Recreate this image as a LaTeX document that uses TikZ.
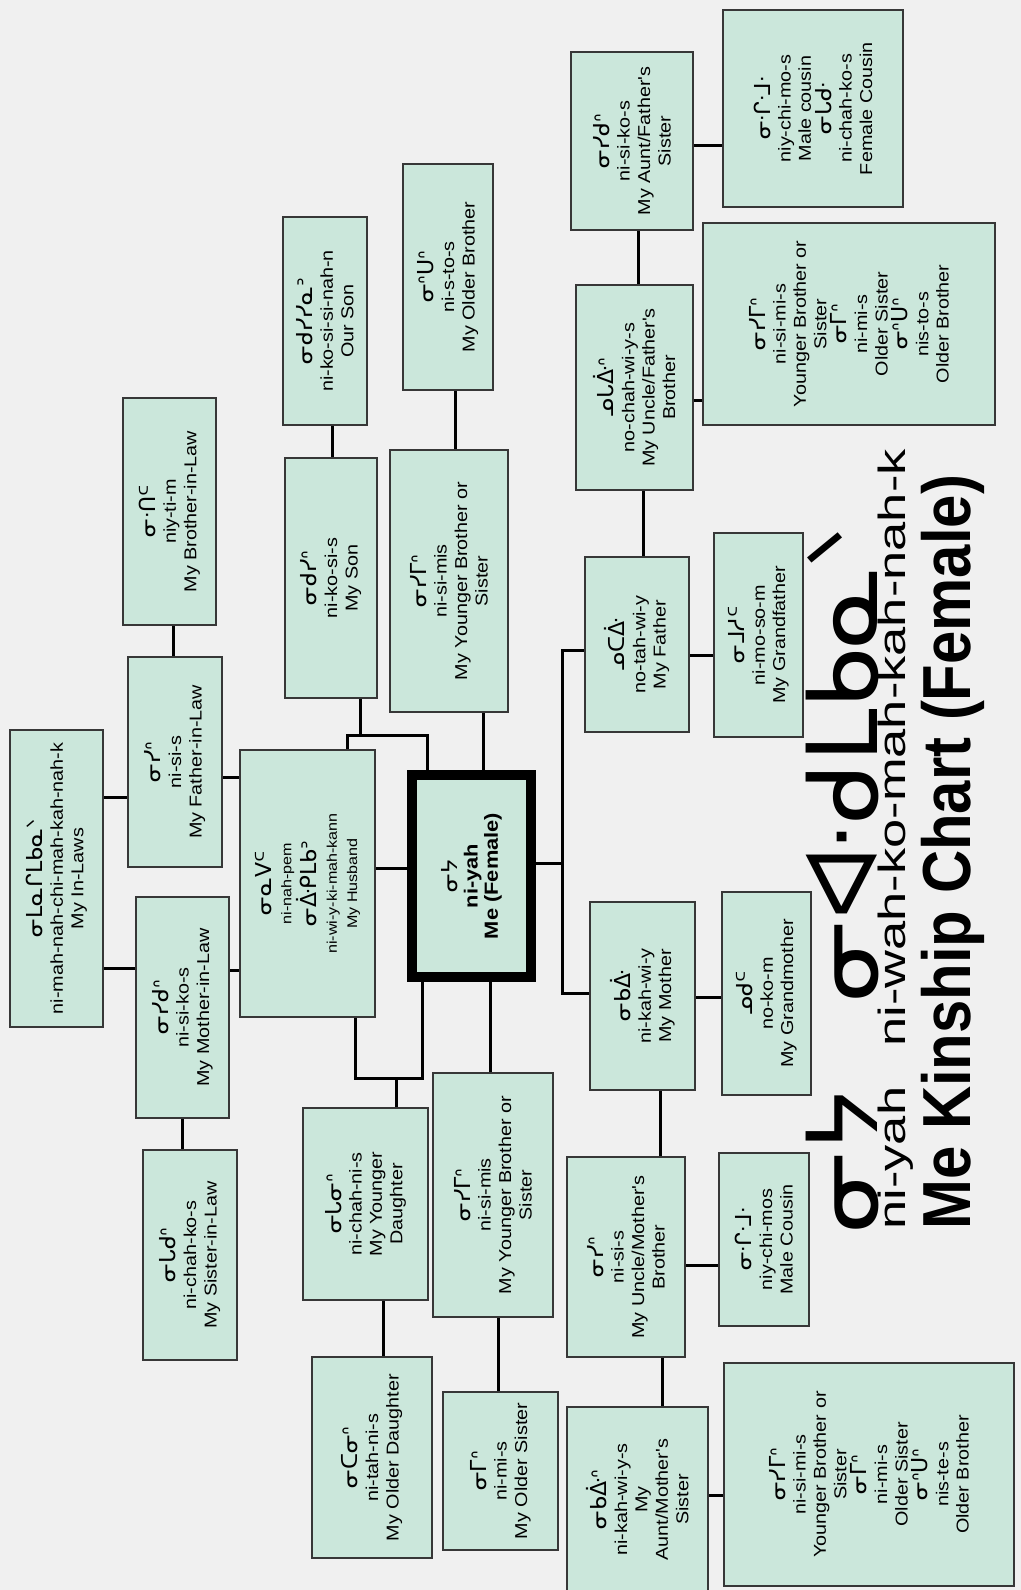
\documentclass[tikz,border=0pt]{standalone}
\usepackage{fontspec}
\setmainfont{Liberation Sans}
\newfontfamily\boxfont[FakeStretch=1.15]{Liberation Sans}
\newfontfamily\sylfont{DejaVu Sans}
\newfontfamily\bigsylfont[FakeStretch=0.98]{DejaVu Sans}
\newfontfamily\subfont[FakeStretch=1.38]{Liberation Sans}
\newfontfamily\chartfont[FakeStretch=0.88]{Liberation Sans}
\usetikzlibrary{fit}
\definecolor{paper}{RGB}{240,240,240}
\definecolor{mint}{RGB}{203,231,219}
\definecolor{edge}{RGB}{55,55,55}
\tikzset{kbox/.style={draw=edge, fill=mint, line width=1pt, inner sep=0pt},
  mebox/.style={kbox, draw=black, line width=5pt},
  ktext/.style={rotate=90, align=center, inner sep=0pt, font=\boxfont\fontsize{8.6}{10.2}\selectfont},
  link/.style={line width=1.5pt, black},
  title/.style={rotate=90, anchor=base west, inner sep=0pt}}
\newcommand{\syl}[1]{{\sylfont\fontsize{11}{12}\selectfont #1}}
\newcommand{\bsyl}[1]{{\fontsize{9.5}{11}\selectfont\bfseries #1}}
\newcommand{\smalltxt}[1]{{\fontsize{7}{8}\selectfont #1}}
\begin{document}
\begin{tikzpicture}[x=0.5pt,y=0.5pt,yscale=-1,xscale=1]
\fill[paper] (0,0) rectangle (1021,1590);
\useasboundingbox (0,0) rectangle (1021,1590);

%Shape: Rectangle [in-laws side]
\node[kbox, fit={(10,730) (103,1027)}] (inlaws) {};
\node[kbox, fit={(128,657) (222,867)}] (fil) {};
\node[kbox, fit={(123,398) (216,625)}] (bil) {};
\node[kbox, fit={(136,897) (229,1118)}] (mil) {};
\node[kbox, fit={(143,1150) (237,1360)}] (sil) {};
\node[kbox, fit={(240,750) (375,1017)}] (husband) {};

%Shape: Rectangle [children and siblings]
\node[kbox, fit={(283,217) (367,425)}] (ourson) {};
\node[kbox, fit={(285,458) (377,698)}] (son) {};
\node[kbox, fit={(303,1108) (428,1300)}] (ydau) {};
\node[kbox, fit={(312,1357) (432,1558)}] (odau) {};
\node[kbox, fit={(390,450) (508,712)}] (ybroA) {};
\node[kbox, fit={(403,164) (493,390)}] (obro) {};
\node[kbox, fit={(433,1073) (553,1317)}] (ybroB) {};
\node[kbox, fit={(443,1392) (558,1550)}] (osis) {};

%Shape: Rectangle [me]
\node[mebox, fit={(412,775) (531,977)}] (me) {};

%Shape: Rectangle [parents side]
\node[kbox, fit={(585,557) (689,732)}] (father) {};
\node[kbox, fit={(590,902) (695,1090)}] (mother) {};
\node[kbox, fit={(714,533) (803,737)}] (gfather) {};
\node[kbox, fit={(722,892) (811,1095)}] (gmother) {};
\node[kbox, fit={(576,285) (693,490)}] (unclef) {};
\node[kbox, fit={(571,52) (693,230)}] (auntf) {};
\node[kbox, fit={(723,10) (903,207)}] (cousinsA) {};
\node[kbox, fit={(703,223) (995,425)}] (sibsA) {};
\node[kbox, fit={(567,1157) (685,1357)}] (unclem) {};
\node[kbox, fit={(567,1407) (708,1592)}] (auntm) {};
\node[kbox, fit={(719,1153) (809,1326)}] (cousinB) {};
\node[kbox, fit={(724,1363) (1014,1586)}] (sibsB) {};

% Text Node [box texts]
\node[ktext] (inlaws-t) at (inlaws) {\syl{ᓂᒪᓇᒋᒪᑲᓇᐠ}\\ ni-mah-nah-chi-mah-kah-nah-k\\ My In-Laws};
\node[ktext] (fil-t) at (fil) {\syl{ᓂᓯᐢ}\\ ni-si-s\\ My Father-in-Law};
\node[ktext] (bil-t) at (bil) {\syl{ᓂᐧᑎᒼ}\\ niy-ti-m\\ My Brother-in-Law};
\node[ktext] (mil-t) at (mil) {\syl{ᓂᓯᑯᐢ}\\ ni-si-ko-s\\ My Mother-in-Law};
\node[ktext] (sil-t) at (sil) {\syl{ᓂᒐᑯᐢ}\\ ni-chah-ko-s\\ My Sister-in-Law};
\node[ktext] (husband-t) at (husband) {\syl{ᓂᓇᐯᒼ}\\ \smalltxt{ni-nah-pem}\\ \syl{ᓂᐑᑭᒪᑲᐣ}\\ \smalltxt{ni-wi-y-ki-mah-kann}\\ \smalltxt{My Husband}};
\node[ktext] (ourson-t) at (ourson) {\syl{ᓂᑯᓯᓯᓇᐣ}\\ ni-ko-si-si-nah-n\\ Our Son};
\node[ktext] (son-t) at (son) {\syl{ᓂᑯᓯᐢ}\\ ni-ko-si-s\\ My Son};
\node[ktext] (ydau-t) at (ydau) {\syl{ᓂᒐᓂᐢ}\\ ni-chah-ni-s\\ My Younger\\ Daughter};
\node[ktext] (odau-t) at (odau) {\syl{ᓂᑕᓂᐢ}\\ ni-tah-ni-s\\ My Older Daughter};
\node[ktext] (ybroA-t) at (ybroA) {\syl{ᓂᓯᒥᐢ}\\ ni-si-mis\\ My Younger Brother or\\ Sister};
\node[ktext] (obro-t) at (obro) {\syl{ᓂᐢᑌᐢ}\\ ni-s-to-s\\ My Older Brother};
\node[ktext] (ybroB-t) at (ybroB) {\syl{ᓂᓯᒥᐢ}\\ ni-si-mis\\ My Younger Brother or\\ Sister};
\node[ktext] (osis-t) at (osis) {\syl{ᓂᒥᐢ}\\ ni-mi-s\\ My Older Sister};
\node[ktext] (me-t) at (me) {\syl{ᓂᔭ}\\ \bsyl{ni-yah}\\ \bsyl{Me (Female)}};
\node[ktext] (father-t) at (father) {\syl{ᓄᑕᐑ}\\ no-tah-wi-y\\ My Father};
\node[ktext] (mother-t) at (mother) {\syl{ᓂᑲᐑ}\\ ni-kah-wi-y\\ My Mother};
\node[ktext] (gfather-t) at (gfather) {\syl{ᓂᒧᓱᒼ}\\ ni-mo-so-m\\ My Grandfather};
\node[ktext] (gmother-t) at (gmother) {\syl{ᓄᑯᒼ}\\ no-ko-m\\ My Grandmother};
\node[ktext] (unclef-t) at (unclef) {\syl{ᓄᒐᐑᐢ}\\ no-chah-wi-y-s\\ My Uncle/Father's\\ Brother};
\node[ktext] (auntf-t) at (auntf) {\syl{ᓂᓯᑯᐢ}\\ ni-si-ko-s\\ My Aunt/Father's\\ Sister};
\node[ktext] (cousinsA-t) at (cousinsA) {\syl{ᓂᐧᒋᐧᒧᐧ}\\ niy-chi-mo-s\\ Male cousin\\ \syl{ᓂᒐᑯᐧ}\\ ni-chah-ko-s\\ Female Cousin};
\node[ktext] (sibsA-t) at (sibsA) {\syl{ᓂᓯᒥᐢ}\\ ni-si-mi-s\\ Younger Brother or\\ Sister\\ \syl{ᓂᒥᐢ}\\ ni-mi-s\\ Older Sister\\ \syl{ᓂᐢᑌᐢ}\\ nis-to-s\\ Older Brother};
\node[ktext] (unclem-t) at (unclem) {\syl{ᓂᓯᐢ}\\ ni-si-s\\ My Uncle/Mother's\\ Brother};
\node[ktext] (auntm-t) at (auntm) {\syl{ᓂᑲᐑᐢ}\\ ni-kah-wi-y-s\\ My\\ Aunt/Mother's\\ Sister};
\node[ktext] (cousinB-t) at (cousinB) {\syl{ᓂᐧᒋᐧᒧᐧ}\\ niy-chi-mos\\ Male Cousin};
\node[ktext] (sibsB-t) at (sibsB) {\syl{ᓂᓯᒥᐢ}\\ ni-si-mi-s\\ Younger Brother or\\ Sister\\ \syl{ᓂᒥᐢ}\\ ni-mi-s\\ Older Sister\\ \syl{ᓂᐢᑌᐢ}\\ nis-te-s\\ Older Brother};

% Levels for the links
\coordinate (h-inl-fil) at (0,797);
\coordinate (h-inl-mil) at (0,968);
\coordinate (h-fil-hus) at (0,777);
\coordinate (h-mil-hus) at (0,970);
\coordinate (h-hus-me) at (0,868);
\coordinate (h-me-par) at (0,863);
\coordinate (h-fa) at (0,650);
\coordinate (h-mo) at (0,993);
\coordinate (h-gfa) at (0,655);
\coordinate (h-gmo) at (0,997);
\coordinate (h-auntf) at (0,145);
\coordinate (h-unclef) at (0,400);
\coordinate (h-unclem) at (0,1265);
\coordinate (h-auntm) at (0,1495);
\coordinate (v-bil) at (173,0);
\coordinate (v-sil) at (182,0);
\coordinate (v-son) at (360,0);
\coordinate (v-ourson) at (332,0);
\coordinate (v-ydau) at (396,0);
\coordinate (v-odau) at (383,0);
\coordinate (v-ybroA) at (483,0);
\coordinate (v-obro) at (455,0);
\coordinate (v-ybroB) at (490,0);
\coordinate (v-osis) at (498,0);
\coordinate (v-par) at (562,0);
\coordinate (v-fa) at (643,0);
\coordinate (v-auntf) at (638,0);
\coordinate (v-mo) at (660,0);
\coordinate (v-auntm) at (662,0);
\coordinate (fam-top-l) at (347,735);
\coordinate (fam-top-r) at (427,735);
\coordinate (fam-bot-l) at (355,1078);
\coordinate (fam-bot-r) at (422,1078);

%Straight Lines [in-laws]
\draw[link] (inlaws.east |- h-inl-fil) -- (fil.west |- h-inl-fil);
\draw[link] (inlaws.east |- h-inl-mil) -- (mil.west |- h-inl-mil);
\draw[link] (bil.south -| v-bil) -- (fil.north -| v-bil);
\draw[link] (mil.south -| v-sil) -- (sil.north -| v-sil);
\draw[link] (fil.east |- h-fil-hus) -- (husband.west |- h-fil-hus);
\draw[link] (mil.east |- h-mil-hus) -- (husband.west |- h-mil-hus);
\draw[link] (husband.east |- h-hus-me) -- (me.west |- h-hus-me);

%Straight Lines [children]
\draw[link] (husband.north -| fam-top-l) -- (fam-top-l) -- (fam-top-r) -- (me.north -| fam-top-r);
\draw[link] (son.south -| v-son) -- (v-son |- fam-top-l);
\draw[link] (ourson.south -| v-ourson) -- (son.north -| v-ourson);
\draw[link] (husband.south -| fam-bot-l) -- (fam-bot-l) -- (fam-bot-r) -- (me.south -| fam-bot-r);
\draw[link] (ydau.north -| v-ydau) -- (v-ydau |- fam-bot-l);
\draw[link] (ydau.south -| v-odau) -- (odau.north -| v-odau);

%Straight Lines [siblings]
\draw[link] (me.north -| v-ybroA) -- (ybroA.south -| v-ybroA);
\draw[link] (ybroA.north -| v-obro) -- (obro.south -| v-obro);
\draw[link] (me.south -| v-ybroB) -- (ybroB.north -| v-ybroB);
\draw[link] (ybroB.south -| v-osis) -- (osis.north -| v-osis);

%Straight Lines [parents]
\draw[link] (me.east |- h-me-par) -- (v-par |- h-me-par);
\draw[link] (father.west |- h-fa) -- (v-par |- h-fa) -- (v-par |- h-mo) -- (mother.west |- h-mo);
\draw[link] (father.east |- h-gfa) -- (gfather.west |- h-gfa);
\draw[link] (mother.east |- h-gmo) -- (gmother.west |- h-gmo);
\draw[link] (father.north -| v-fa) -- (unclef.south -| v-fa);
\draw[link] (unclef.north -| v-auntf) -- (auntf.south -| v-auntf);
\draw[link] (auntf.east |- h-auntf) -- (cousinsA.west |- h-auntf);
\draw[link] (unclef.east |- h-unclef) -- (sibsA.west |- h-unclef);
\draw[link] (mother.south -| v-mo) -- (unclem.north -| v-mo);
\draw[link] (unclem.south -| v-auntm) -- (auntm.north -| v-auntm);
\draw[link] (unclem.east |- h-unclem) -- (cousinB.west |- h-unclem);
\draw[link] (auntm.east |- h-auntm) -- (sibsB.west |- h-auntm);

% Text Node [title]
\node[title, font=\bigsylfont\fontsize{49}{49}\selectfont] (t-syl-me) at (877,1233) {ᓂᔭ};
\node[title, font=\bigsylfont\fontsize{49}{49}\selectfont] (t-syl-kin) at (877,1002) {ᓂᐘᑯᒪᑲᓇᐠ};
\node[title, font=\subfont\fontsize{19}{19}\selectfont] (t-me) at (905,1230) {ni-yah};
\node[title, font=\subfont\fontsize{19}{19}\selectfont] (t-kin) at (905,1047) {ni-wah-ko-mah-kah-nah-k};
\node[title, font=\chartfont\bfseries\fontsize{34}{34}\selectfont] (t-chart) at (970,1230) {Me Kinship Chart (Female)};

\end{tikzpicture}
\end{document}
